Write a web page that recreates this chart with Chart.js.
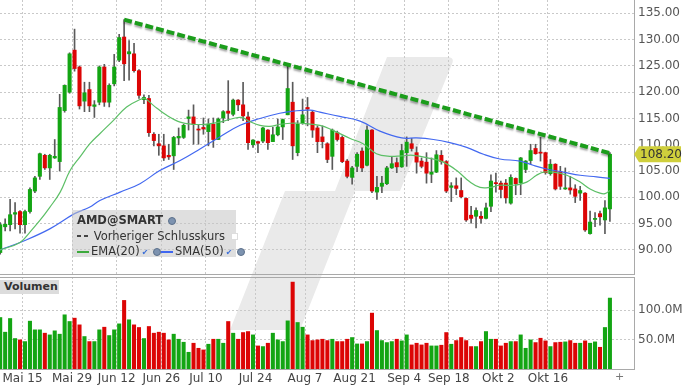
<!DOCTYPE html>
<html>
<head>
<meta charset="utf-8">
<script src="https://cdn.jsdelivr.net/npm/chart.js@4.4.0/dist/chart.umd.min.js"></script>
<style>
  html, body { margin: 0; padding: 0; background: #fff; }
  #wrap { position: relative; width: 683px; height: 386px; overflow: hidden; font-family: "DejaVu Sans", sans-serif; }
  #wrap > * { position: absolute; }
  #logo { left: 0; top: 0; }
  #pc { left: 0; top: 0; }
  #vc { left: 0; top: 277px; }
  #legend { left: 72px; top: 210px; width: 164px; height: 47px; background: rgba(196,196,196,0.55); font-size: 11.5px; color: #333; line-height: 15.5px; padding: 3px 0 0 5px; box-sizing: border-box; white-space: nowrap; }
  #legend .ln { display: inline-block; width: 12px; height: 2px; vertical-align: middle; margin-right: 2px; }
  #legend .dash { display: inline-block; width: 12px; height: 2px; vertical-align: middle; margin-right: 1px;
    background: linear-gradient(90deg, #444 0 4px, transparent 4px 7px, #444 7px 11px, transparent 11px); }
  #legend .chk { color: #3c6fd8; font-size: 8px; margin-left: 2px; }
  #legend .globe { display: inline-block; width: 6px; height: 6px; border-radius: 50%; background: #7d93b0; border: 1px solid #5b6f8a; vertical-align: middle; margin-left: 1px; }
  #legend .box { display: inline-block; width: 5px; height: 5px; background: #fff; border: 1px solid #ddd; vertical-align: middle; margin-left: 2px; }
  #vol { left: 0; top: 280px; width: 59px; height: 14px; background: #dcdcdc; font-size: 11px; font-weight: bold; color: #333; line-height: 14px; padding-left: 4px; box-sizing: border-box; }
  #plus { left: 615px; top: 370px; font-size: 11px; color: #777; }
</style>
</head>
<body>
<div id="wrap">
  <svg id="logo" width="683" height="386">
    <path d="M387,57 L447,57 Q455,57 452,64 L400,191 L355,191 L300,330 L230,330 L285,191 L335,191 Z" fill="#eaeaea"/>
  </svg>
  <canvas id="pc" width="683" height="275"></canvas>
  <canvas id="vc" width="683" height="109"></canvas>
  <div id="legend">
    <div><b>AMD@SMART</b> <span class="globe"></span></div>
    <div><span class="dash"></span> Vorheriger Schlusskurs <span class="box"></span></div>
    <div><span class="ln" style="background:#3daa3d"></span>EMA(20)<span class="chk">&#10004;</span> <span class="globe"></span><span class="ln" style="background:#3f66f0"></span>SMA(50)<span class="chk">&#10004;</span> <span class="globe"></span></div>
  </div>
  <div id="vol">Volumen</div>
  <div id="plus">+</div>
</div>
<script>
// trading-day index of the first candle (0 = Mai 15)
const firstDay = -5;

const open = [
  89.5, 94.4, 94.8, 96.8, 97.3, 94.8, 97.3, 101.2, 104.0, 108.0,
  105.6, 107.5, 106.8, 116.5, 120.0, 128.0, 124.8, 118.3, 120.5, 117.3,
  118.1, 124.8, 118.1, 121.6, 126.1, 130.5, 127.3, 127.3, 124.1, 118.6,
  118.8, 112.0, 110.2, 109.8, 108.0, 107.9, 111.3, 111.4, 115.0, 115.3,
  113.0, 113.3, 112.5, 113.9, 111.0, 115.1, 116.4, 115.8, 118.5, 117.6,
  115.3, 110.0, 110.6, 110.7, 112.8, 110.6, 111.9, 113.4, 115.7, 118.1,
  108.5, 114.2, 117.1, 116.2, 113.2, 111.5, 110.2, 107.8, 112.3, 111.4,
  106.9, 103.8, 105.9, 108.8, 106.1, 112.8, 101.0, 102.1, 102.6, 105.6,
  106.6, 105.8, 108.5, 110.2, 108.5, 106.9, 106.7, 104.4, 104.8, 108.0,
  106.8, 101.9, 102.2, 101.3, 99.8, 96.6, 96.4, 96.4, 96.0, 98.3,
  102.8, 102.7, 102.7, 98.9, 103.6, 102.8, 105.3, 107.0, 109.3, 108.6,
  108.5, 104.5, 106.3, 104.9, 101.6, 101.8, 101.6, 100.8, 100.8, 93.1,
  95.8, 96.9, 95.7, 97.8
];
const high = [
  95.2, 95.9, 99.6, 99.0, 97.5, 97.6, 101.8, 104.0, 108.4, 108.2,
  108.2, 111.0, 119.6, 121.4, 127.5, 132.0, 125.0, 121.9, 121.9, 118.4,
  125.0, 125.3, 121.6, 127.2, 131.0, 133.8, 129.8, 129.3, 124.3, 119.5,
  119.4, 112.3, 112.0, 112.0, 110.1, 111.6, 113.2, 113.9, 116.6, 117.6,
  113.8, 115.1, 114.9, 115.1, 115.1, 116.5, 122.2, 118.7, 118.6, 121.9,
  116.2, 111.0, 110.7, 113.3, 112.9, 113.3, 114.9, 114.9, 125.4, 121.9,
  114.6, 118.7, 119.0, 116.5, 113.6, 113.6, 110.4, 113.0, 112.6, 111.7,
  107.2, 105.9, 108.5, 109.4, 113.6, 112.9, 104.0, 104.0, 105.9, 107.7,
  107.5, 110.1, 111.5, 111.2, 109.6, 107.5, 108.5, 107.5, 108.9, 108.9,
  107.0, 102.8, 103.7, 103.7, 99.9, 98.3, 98.0, 97.3, 98.9, 104.3,
  104.6, 103.1, 103.4, 104.3, 103.7, 107.6, 107.0, 110.1, 110.1, 111.4,
  108.6, 107.2, 106.4, 105.9, 105.6, 104.0, 102.4, 102.1, 100.9, 97.4,
  97.1, 97.4, 99.4, 108.5
];
const low = [
  89.2, 93.6, 93.6, 94.0, 93.2, 93.2, 97.0, 100.9, 103.4, 105.3,
  103.4, 107.4, 105.0, 116.2, 119.8, 124.0, 116.8, 116.3, 116.3, 115.2,
  117.6, 117.3, 117.2, 121.2, 125.8, 122.2, 122.3, 123.8, 118.8, 117.8,
  111.6, 109.8, 108.0, 107.0, 107.2, 105.3, 110.0, 111.2, 112.8, 110.1,
  110.1, 112.0, 109.8, 109.5, 111.0, 114.2, 114.6, 115.5, 116.5, 114.6,
  109.1, 109.5, 108.5, 110.4, 109.1, 110.6, 111.7, 111.0, 115.7, 107.2,
  107.9, 113.9, 113.6, 111.4, 108.5, 109.4, 106.6, 105.3, 110.7, 106.6,
  103.7, 102.5, 104.9, 104.9, 106.0, 100.9, 99.6, 100.9, 102.4, 105.5,
  104.7, 105.7, 105.9, 108.8, 104.6, 105.6, 102.7, 102.8, 104.7, 106.3,
  100.9, 99.2, 100.5, 99.9, 95.4, 95.1, 94.2, 95.1, 95.9, 97.3,
  101.0, 99.9, 98.9, 98.7, 100.5, 100.5, 104.7, 106.3, 108.2, 106.9,
  104.4, 104.2, 101.4, 101.5, 101.5, 100.6, 99.0, 99.4, 93.5, 93.0,
  94.4, 94.7, 93.1, 95.4
];
const close = [
  94.8, 94.9, 96.7, 97.1, 94.8, 97.3, 101.5, 103.7, 108.3, 105.6,
  108.0, 107.8, 117.1, 121.3, 127.3, 124.5, 117.4, 119.9, 117.4, 117.6,
  124.8, 118.1, 121.3, 124.8, 130.4, 125.4, 127.7, 124.1, 119.4, 119.0,
  112.3, 110.8, 109.8, 107.5, 107.7, 111.4, 111.6, 113.7, 115.3, 113.9,
  112.8, 113.0, 113.9, 111.0, 114.9, 116.3, 116.0, 118.5, 117.6, 115.5,
  110.4, 110.9, 110.3, 113.2, 110.4, 111.9, 113.4, 114.8, 120.7, 109.8,
  113.9, 115.7, 116.8, 112.8, 110.6, 110.6, 107.2, 112.8, 111.0, 106.8,
  104.0, 105.6, 108.2, 105.6, 112.8, 101.2, 101.9, 102.7, 105.6, 106.4,
  105.8, 108.9, 110.5, 109.3, 106.7, 105.9, 104.6, 104.8, 108.1, 106.8,
  101.2, 102.2, 101.7, 100.1, 95.7, 96.0, 97.5, 96.0, 98.0, 103.1,
  102.6, 101.5, 99.9, 103.8, 102.6, 107.5, 106.9, 108.9, 108.3, 108.4,
  104.7, 106.3, 101.6, 102.1, 101.8, 101.4, 100.2, 101.3, 93.8, 95.3,
  96.0, 96.3, 98.0, 108.2
];
// volume in millions
const volume = [
  87.7, 62.7, 86.0, 51.9, 49.6, 46.7, 81.5, 66.7, 66.7, 61.0,
  58.1, 65.0, 59.3, 92.3, 80.9, 86.6, 75.2, 55.3, 46.7, 46.7,
  66.7, 71.2, 57.0, 66.7, 76.9, 116.8, 83.8, 75.2, 70.7, 51.9,
  72.4, 61.0, 62.7, 61.0, 49.6, 59.3, 50.7, 45.6, 28.5, 43.9,
  35.3, 32.5, 42.2, 50.7, 50.7, 43.9, 80.9, 61.0, 50.7, 62.1,
  63.8, 58.1, 39.3, 38.2, 43.9, 61.0, 49.6, 46.7, 82.0, 148.0,
  79.2, 71.2, 58.1, 48.4, 49.6, 50.7, 48.4, 50.7, 46.7, 46.7,
  50.7, 53.6, 42.7, 42.7, 46.7, 95.2, 65.5, 48.4, 45.0, 46.7,
  50.7, 47.9, 58.1, 41.0, 43.9, 41.0, 43.9, 39.3, 39.3, 40.5,
  62.1, 42.2, 48.4, 53.6, 48.4, 38.2, 38.2, 46.7, 63.8, 50.7,
  50.7, 39.3, 43.9, 46.7, 46.7, 58.1, 35.3, 49.6, 45.0, 52.4,
  47.9, 38.2, 45.0, 45.6, 46.2, 48.4, 43.9, 43.9, 47.9, 43.9,
  46.2, 37.0, 70.7, 120.8
];

// indicator lines (day index, value)
const emaDay = [-5, -1, 1, 3, 5, 7.1, 9.1, 11.1, 13.1, 15.1, 17.8, 20.5, 23.2, 24.2, 25.9, 28.6, 31.3, 34, 36.3, 39.3,
  42, 43.7, 45.4, 47.4, 49.4, 51.4, 53.5, 55.5, 59.5, 62.2, 65.6, 68.2, 70.9, 73.6, 76, 78.3, 81.7, 84.4, 87.1, 89.8,
  91.8, 93.8, 95.8, 98.5, 101.2, 103.2, 104.6, 106.6, 109.3, 112, 114, 116, 117, 118];
const emaVal = [90.0, 91.4, 93.4, 95.6, 98.1, 101.0, 105.1, 107.7, 110.2, 112.1, 114.6, 117.2, 118.6, 118.8, 117.5, 115.6, 114.3, 113.9, 113.9, 114.3,
  115.0, 115.2, 114.4, 113.7, 113.5, 113.9, 114.1, 114.1, 113.7, 112.7, 111.2, 110.2, 108.3, 107.8, 107.9, 108.0, 107.4, 106.7, 105.1, 102.9,
  101.9, 101.9, 102.3, 102.3, 102.9, 104.2, 104.8, 104.8, 104.2, 102.9, 101.6, 100.8, 100.7, 101.3];
const smaDay = [-5, 0, 5, 10, 13, 15.1, 19.2, 23.2, 27.2, 31.3, 35.3, 39.3, 43.4, 47.4, 51.4, 54.1, 57.5, 59.5, 63.5, 67.6,
  71.6, 76, 79, 82.4, 85.7, 89.1, 92.5, 95.8, 99.9, 102.5, 105.2, 108.6, 112, 115.3, 118];
const smaVal = [90.0, 91.8, 94.0, 96.9, 98.1, 99.4, 101.0, 102.6, 105.1, 107.0, 109.2, 111.5, 113.7, 115.0, 116.0, 116.4, 116.6, 116.2, 115.4, 114.5,
  112.6, 111.3, 111.3, 111.0, 110.4, 109.5, 108.2, 107.3, 106.9, 106.1, 105.4, 104.8, 104.2, 103.9, 103.6];

// drawn trend line from the June high to the last bar
const trendDay = [20, 118];
const trendVal = [133.8, 108.4];

// axis ticks
const dayTicks = [0, 10, 19, 28, 37, 47, 57, 67, 77, 86, 96, 106];
const dayLabels = ['Mai 15', 'Mai 29', 'Jun 12', 'Jun 26', 'Jul 10', 'Jul 24', 'Aug 7', 'Aug 21', 'Sep 4', 'Sep 18', 'Okt 2', 'Okt 16'];
const priceTicks = [90, 95, 100, 105, 110, 115, 120, 125, 130, 135];
const volTicks = [50, 100];

const FONT = '"DejaVu Sans", sans-serif';
const UP = '#13a513';
const DOWN = '#dc0505';
const GRID = '#c9c9c9';
const FRAME = '#a9a9a9';
const xMin = -5.04;
const xMax = 122.86;

Chart.defaults.font.family = FONT;
Chart.defaults.animation = false;

const days = close.map((c, k) => k + firstDay);
const barColors = close.map((c, k) => (c >= open[k] ? UP : DOWN));
const pts = (xs, ys) => xs.map((x, k) => ({ x: x, y: ys[k] }));

const xTicks = (s) => { s.ticks = dayTicks.map(v => ({ value: v - 0.5 })); };
const dayLabel = (v) => {
  const k = dayTicks.indexOf(Math.round(v + 0.5));
  return k >= 0 ? dayLabels[k] : '';
};

const trendShadow = {
  id: 'trendShadow',
  beforeDatasetDraw(chart, args) {
    if (args.meta.label !== 'Trend') return;
    const ctx = chart.ctx;
    ctx.save();
    ctx.shadowColor = 'rgba(0,0,0,0.35)';
    ctx.shadowOffsetY = 2;
    ctx.shadowBlur = 2;
  },
  afterDatasetDraw(chart, args) {
    if (args.meta.label === 'Trend') chart.ctx.restore();
  }
};

const lastLabel = {
  id: 'lastLabel',
  afterDraw(chart) {
    const { ctx, chartArea, scales } = chart;
    const v = close[close.length - 1];
    const py = scales.y.getPixelForValue(v);
    const x0 = chartArea.right, x1 = x0 + 5, x2 = 681, h = 8;
    ctx.save();
    ctx.fillStyle = '#cfcf3c';
    ctx.beginPath();
    ctx.moveTo(x0, py);
    ctx.lineTo(x1, py - h);
    ctx.lineTo(x2, py - h);
    ctx.lineTo(x2, py + h);
    ctx.lineTo(x1, py + h);
    ctx.closePath();
    ctx.fill();
    ctx.fillStyle = '#333';
    ctx.font = '12px ' + FONT;
    ctx.textBaseline = 'middle';
    ctx.fillText(v.toFixed(2), x1 + 1, py + 1);
    ctx.restore();
  }
};

const topLine = {
  id: 'topLine',
  afterDraw(chart) {
    const { ctx, chartArea } = chart;
    ctx.save();
    ctx.strokeStyle = FRAME;
    ctx.lineWidth = 1;
    ctx.beginPath();
    ctx.moveTo(chartArea.left, chartArea.top + 0.5);
    ctx.lineTo(chartArea.right, chartArea.top + 0.5);
    ctx.stroke();
    ctx.restore();
  }
};

new Chart(document.getElementById('pc'), {
  type: 'bar',
  data: {
    datasets: [
      {
        type: 'line', label: 'Trend', data: pts(trendDay, trendVal),
        borderColor: '#1b9d1b', borderWidth: 4, borderDash: [8, 3], pointRadius: 0, order: -3
      },
      {
        type: 'line', label: 'EMA(20)', data: pts(emaDay, emaVal),
        borderColor: '#5cbf66', borderWidth: 1.2, pointRadius: 0, tension: 0.4, order: -2
      },
      {
        type: 'line', label: 'SMA(50)', data: pts(smaDay, smaVal),
        borderColor: '#4268f0', borderWidth: 1.2, pointRadius: 0, tension: 0.4, order: -1
      },
      {
        label: 'Body', data: days.map((d, k) => ({ x: d, y: [open[k], close[k]] })),
        backgroundColor: barColors, barThickness: 3.4, grouped: false, order: 1
      },
      {
        label: 'Wick', data: days.map((d, k) => ({ x: d, y: [low[k], high[k]] })),
        backgroundColor: '#5a5a5a', barThickness: 1, grouped: false, order: 2
      }
    ]
  },
  options: {
    responsive: false,
    devicePixelRatio: 1,
    layout: { padding: { bottom: 1 } },
    plugins: { legend: { display: false }, tooltip: { enabled: false } },
    scales: {
      x: {
        type: 'linear', min: xMin, max: xMax, offset: false,
        afterBuildTicks: xTicks,
        afterFit: (s) => { s.height = 0; s.paddingLeft = 0; s.paddingRight = 0; },
        ticks: { display: false },
        grid: { color: GRID, drawTicks: false, offset: false },
        border: { display: true, color: FRAME, dash: [2, 2] }
      },
      y: {
        position: 'right', min: 85.42, max: 137.54,
        afterBuildTicks: (s) => { s.ticks = priceTicks.map(v => ({ value: v })); },
        afterFit: (s) => { s.width = 49; s.paddingTop = 0; s.paddingBottom = 0; },
        ticks: { callback: (v) => v.toFixed(2), color: '#555', font: { size: 12 }, padding: 4 },
        grid: { color: GRID, drawTicks: false },
        border: { display: true, color: FRAME, dash: [2, 2] }
      }
    }
  },
  plugins: [trendShadow, lastLabel]
});

new Chart(document.getElementById('vc'), {
  type: 'bar',
  data: {
    datasets: [{
      label: 'Volumen', data: days.map((d, k) => ({ x: d, y: volume[k] })),
      backgroundColor: barColors, barThickness: 3.4, grouped: false
    }]
  },
  options: {
    responsive: false,
    devicePixelRatio: 1,
    plugins: { legend: { display: false }, tooltip: { enabled: false } },
    scales: {
      x: {
        type: 'linear', min: xMin, max: xMax, offset: false,
        afterBuildTicks: xTicks,
        afterFit: (s) => { s.height = 17; s.paddingLeft = 0; s.paddingRight = 0; },
        ticks: { callback: dayLabel, color: '#444', font: { size: 12 }, padding: 3, maxRotation: 0, autoSkip: false },
        grid: { color: GRID, drawTicks: false, offset: false },
        border: { display: true, color: FRAME, dash: [2, 2] }
      },
      y: {
        position: 'right', min: 0, max: 156.7,
        afterBuildTicks: (s) => { s.ticks = volTicks.map(v => ({ value: v })); },
        afterFit: (s) => { s.width = 49; s.paddingTop = 0; s.paddingBottom = 0; },
        ticks: { callback: (v) => v.toFixed(1) + 'M', color: '#555', font: { size: 12 }, padding: 4 },
        grid: { color: GRID, drawTicks: false },
        border: { display: true, color: FRAME, dash: [2, 2] }
      }
    }
  },
  plugins: [topLine]
});
</script>
</body>
</html>
